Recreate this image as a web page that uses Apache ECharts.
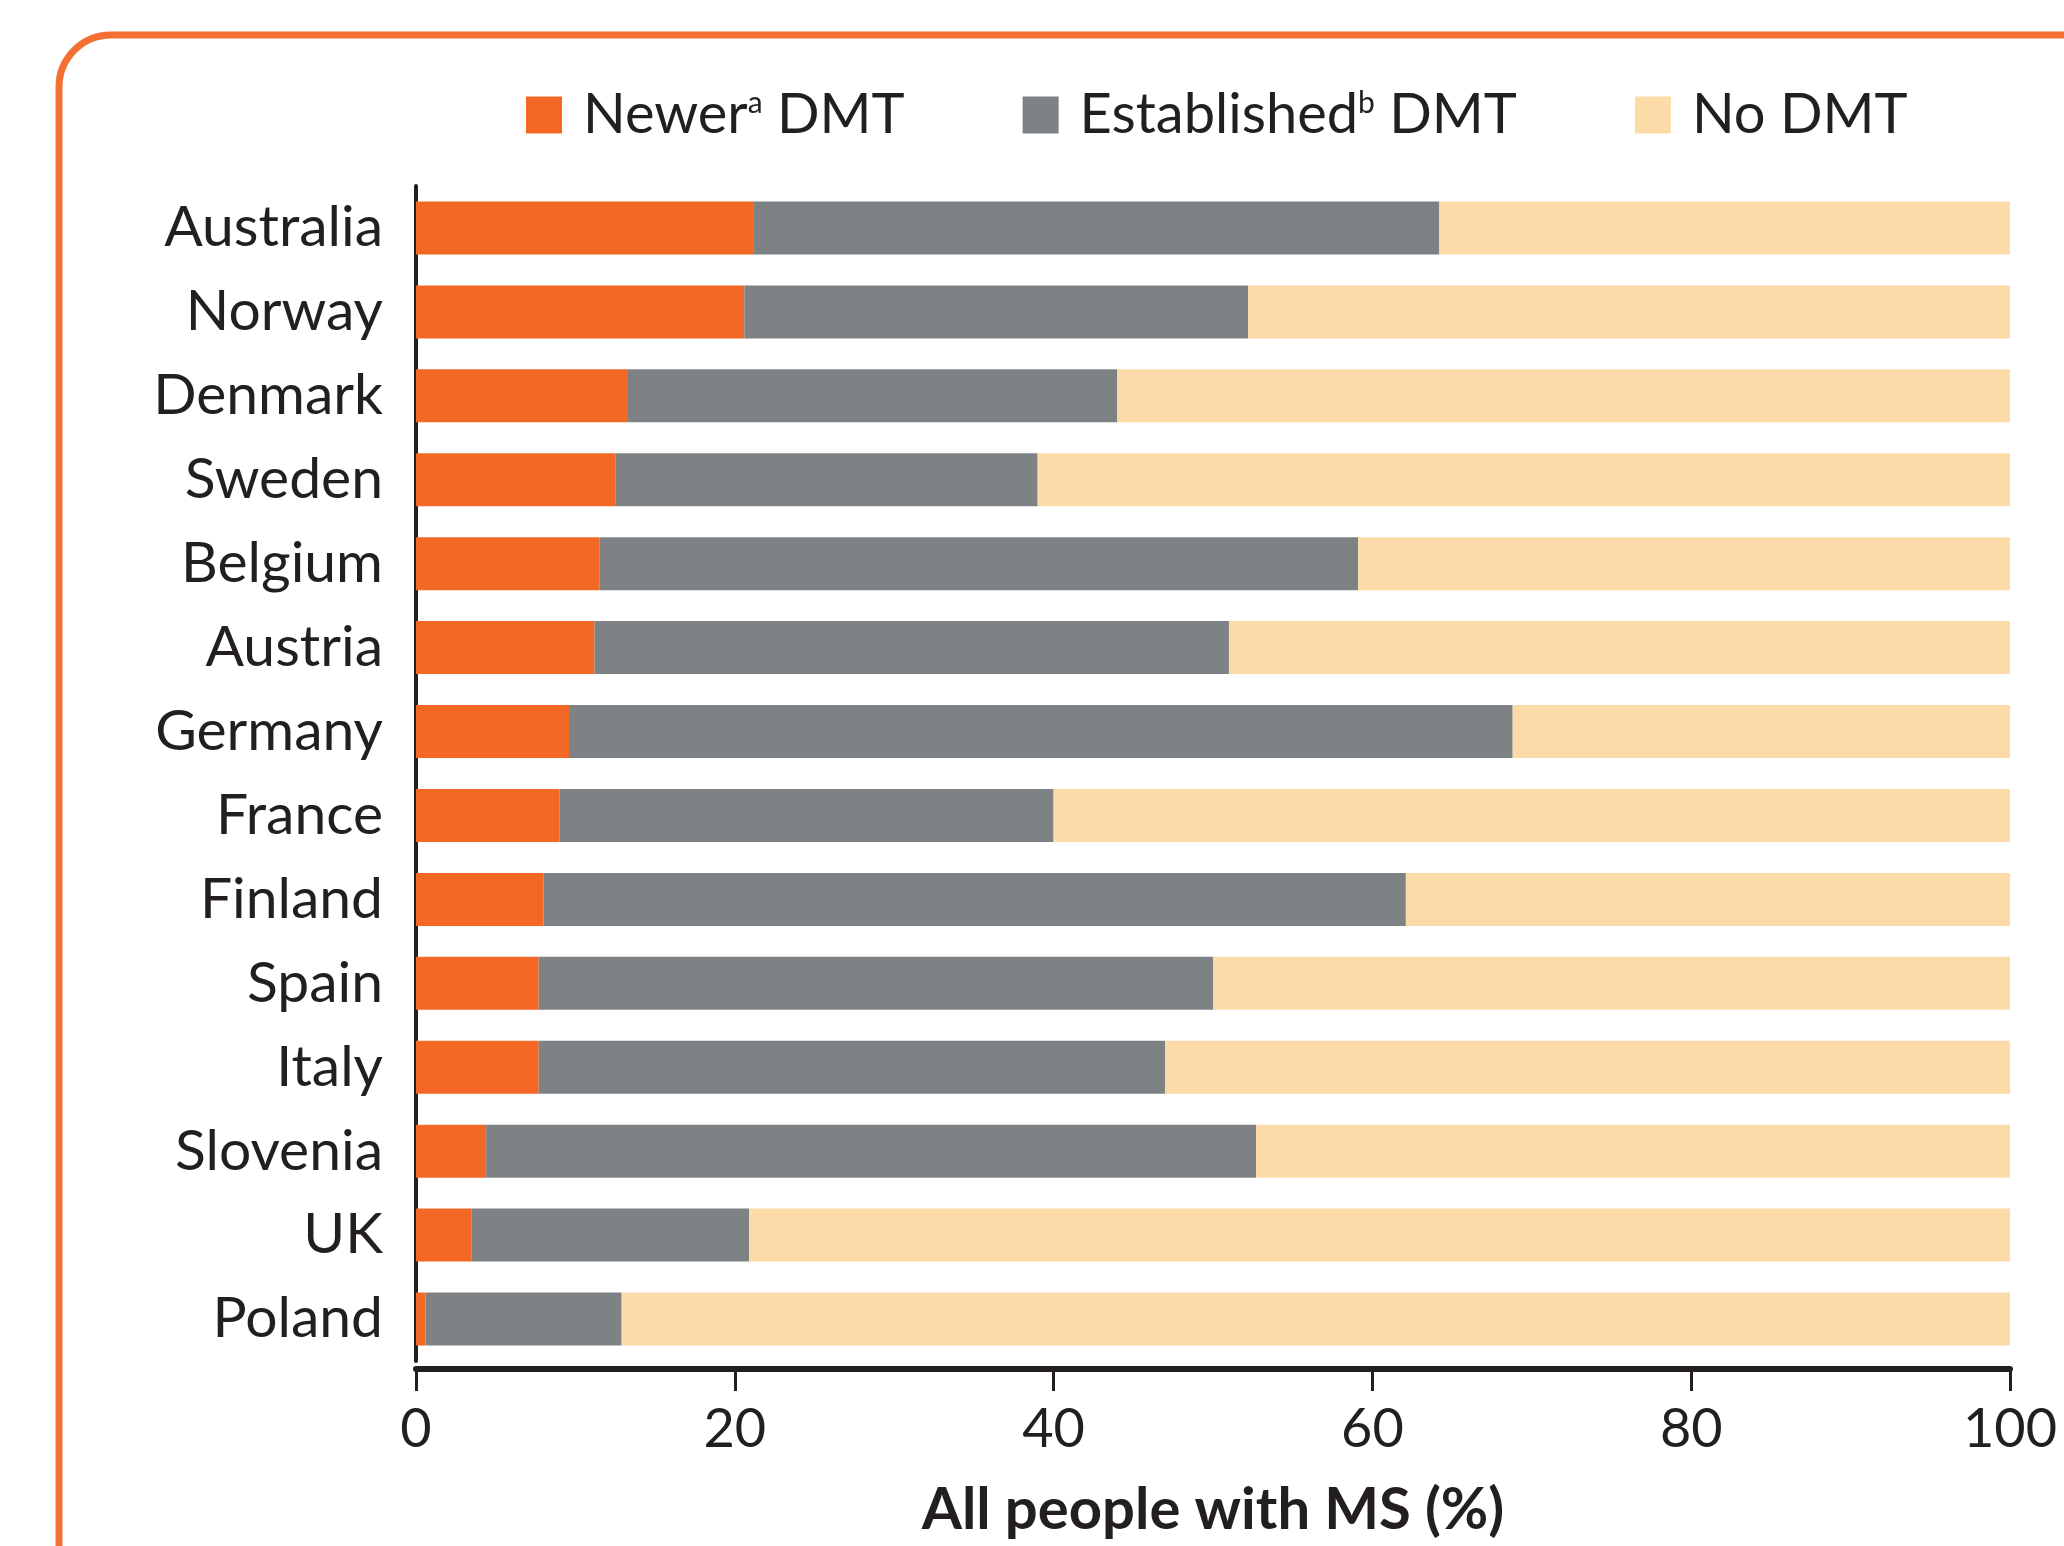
<!DOCTYPE html>
<html>
<head>
<meta charset="utf-8">
<script src="https://cdn.jsdelivr.net/npm/echarts@6/dist/echarts.min.js"></script>
<style>
html,body{margin:0;padding:0;background:#fff;overflow:hidden;}
#chart{width:2064px;height:1546px;}
</style>
</head>
<body>
<div id="chart"></div>
<script>
const categories = ['Australia','Norway','Denmark','Sweden','Belgium','Austria','Germany','France','Finland','Spain','Italy','Slovenia','UK','Poland'];
const newerDMT = [21.2,20.6,13.3,12.5,11.5,11.2,9.6,9.0,8.0,7.7,7.7,4.4,3.5,0.6];
const establishedDMT = [43.0,31.6,30.7,26.5,47.6,39.8,59.2,31.0,54.1,42.3,39.3,48.3,17.4,12.3];
const noDMT = [35.8,47.8,56.0,61.0,40.9,49.0,31.2,60.0,37.9,50.0,53.0,47.3,79.1,87.1];
const xTicks = [0,20,40,60,80,100];

const seriesNames = ['Newer DMT','Established DMT','No DMT'];
const legendRich = {
  'Newer DMT': '{n|Newer}{s|a}{n| DMT}',
  'Established DMT': '{n|Established}{s|b}{n| DMT}',
  'No DMT': '{n|No DMT}'
};
const colors = ['#F26824','#7F8284','#FCDBA8'];
const ink = '#231F20';
const font = 'Lato';

const chart = echarts.init(document.getElementById('chart'));
const option = {
  backgroundColor: '#ffffff',
  animation: false,
  graphic: [{
    type: 'rect',
    shape: {x: 59, y: 35, width: 2300, height: 1800, r: 52},
    style: {fill: 'none', stroke: '#F37032', lineWidth: 7},
    silent: true
  }],
  legend: {
    data: seriesNames,
    left: 521,
    top: 82,
    itemWidth: 36,
    itemHeight: 37,
    itemGap: 118,
    icon: 'rect',
    formatter: name => legendRich[name],
    textStyle: {
      fontFamily: font,
      fontSize: 56,
      color: ink,
      padding: [0, 0, 0, 16],
      rich: {
        n: {fontFamily: font, fontSize: 56, color: ink},
        s: {fontFamily: font, fontSize: 30, color: ink, padding: [0, 0, 24, 0]}
      }
    }
  },
  grid: {left: 416, right: 54, top: 186, height: 1175, containLabel: false},
  xAxis: {
    type: 'value',
    min: xTicks[0],
    max: xTicks[xTicks.length - 1],
    interval: 20,
    offset: 8,
    axisLine: {show: true, lineStyle: {color: ink, width: 6}},
    axisTick: {show: true, length: 22, lineStyle: {color: ink, width: 3}},
    axisLabel: {fontFamily: font, fontSize: 54, color: ink, margin: 34},
    splitLine: {show: false},
    name: 'All people with MS (%)',
    nameLocation: 'middle',
    nameGap: 112,
    nameTextStyle: {fontFamily: font, fontSize: 58, fontWeight: 'bold', color: ink}
  },
  yAxis: {
    type: 'category',
    data: categories,
    inverse: true,
    axisLine: {show: true, lineStyle: {color: ink, width: 4}},
    axisTick: {show: false},
    axisLabel: {fontFamily: font, fontSize: 57, color: ink, margin: 33}
  },
  series: [
    {name: seriesNames[0], type: 'bar', stack: 'all', data: newerDMT, barWidth: 53, itemStyle: {color: colors[0]}},
    {name: seriesNames[1], type: 'bar', stack: 'all', data: establishedDMT, barWidth: 53, itemStyle: {color: colors[1]}},
    {name: seriesNames[2], type: 'bar', stack: 'all', data: noDMT, barWidth: 53, itemStyle: {color: colors[2]}}
  ]
};
chart.setOption(option);
</script>
</body>
</html>
